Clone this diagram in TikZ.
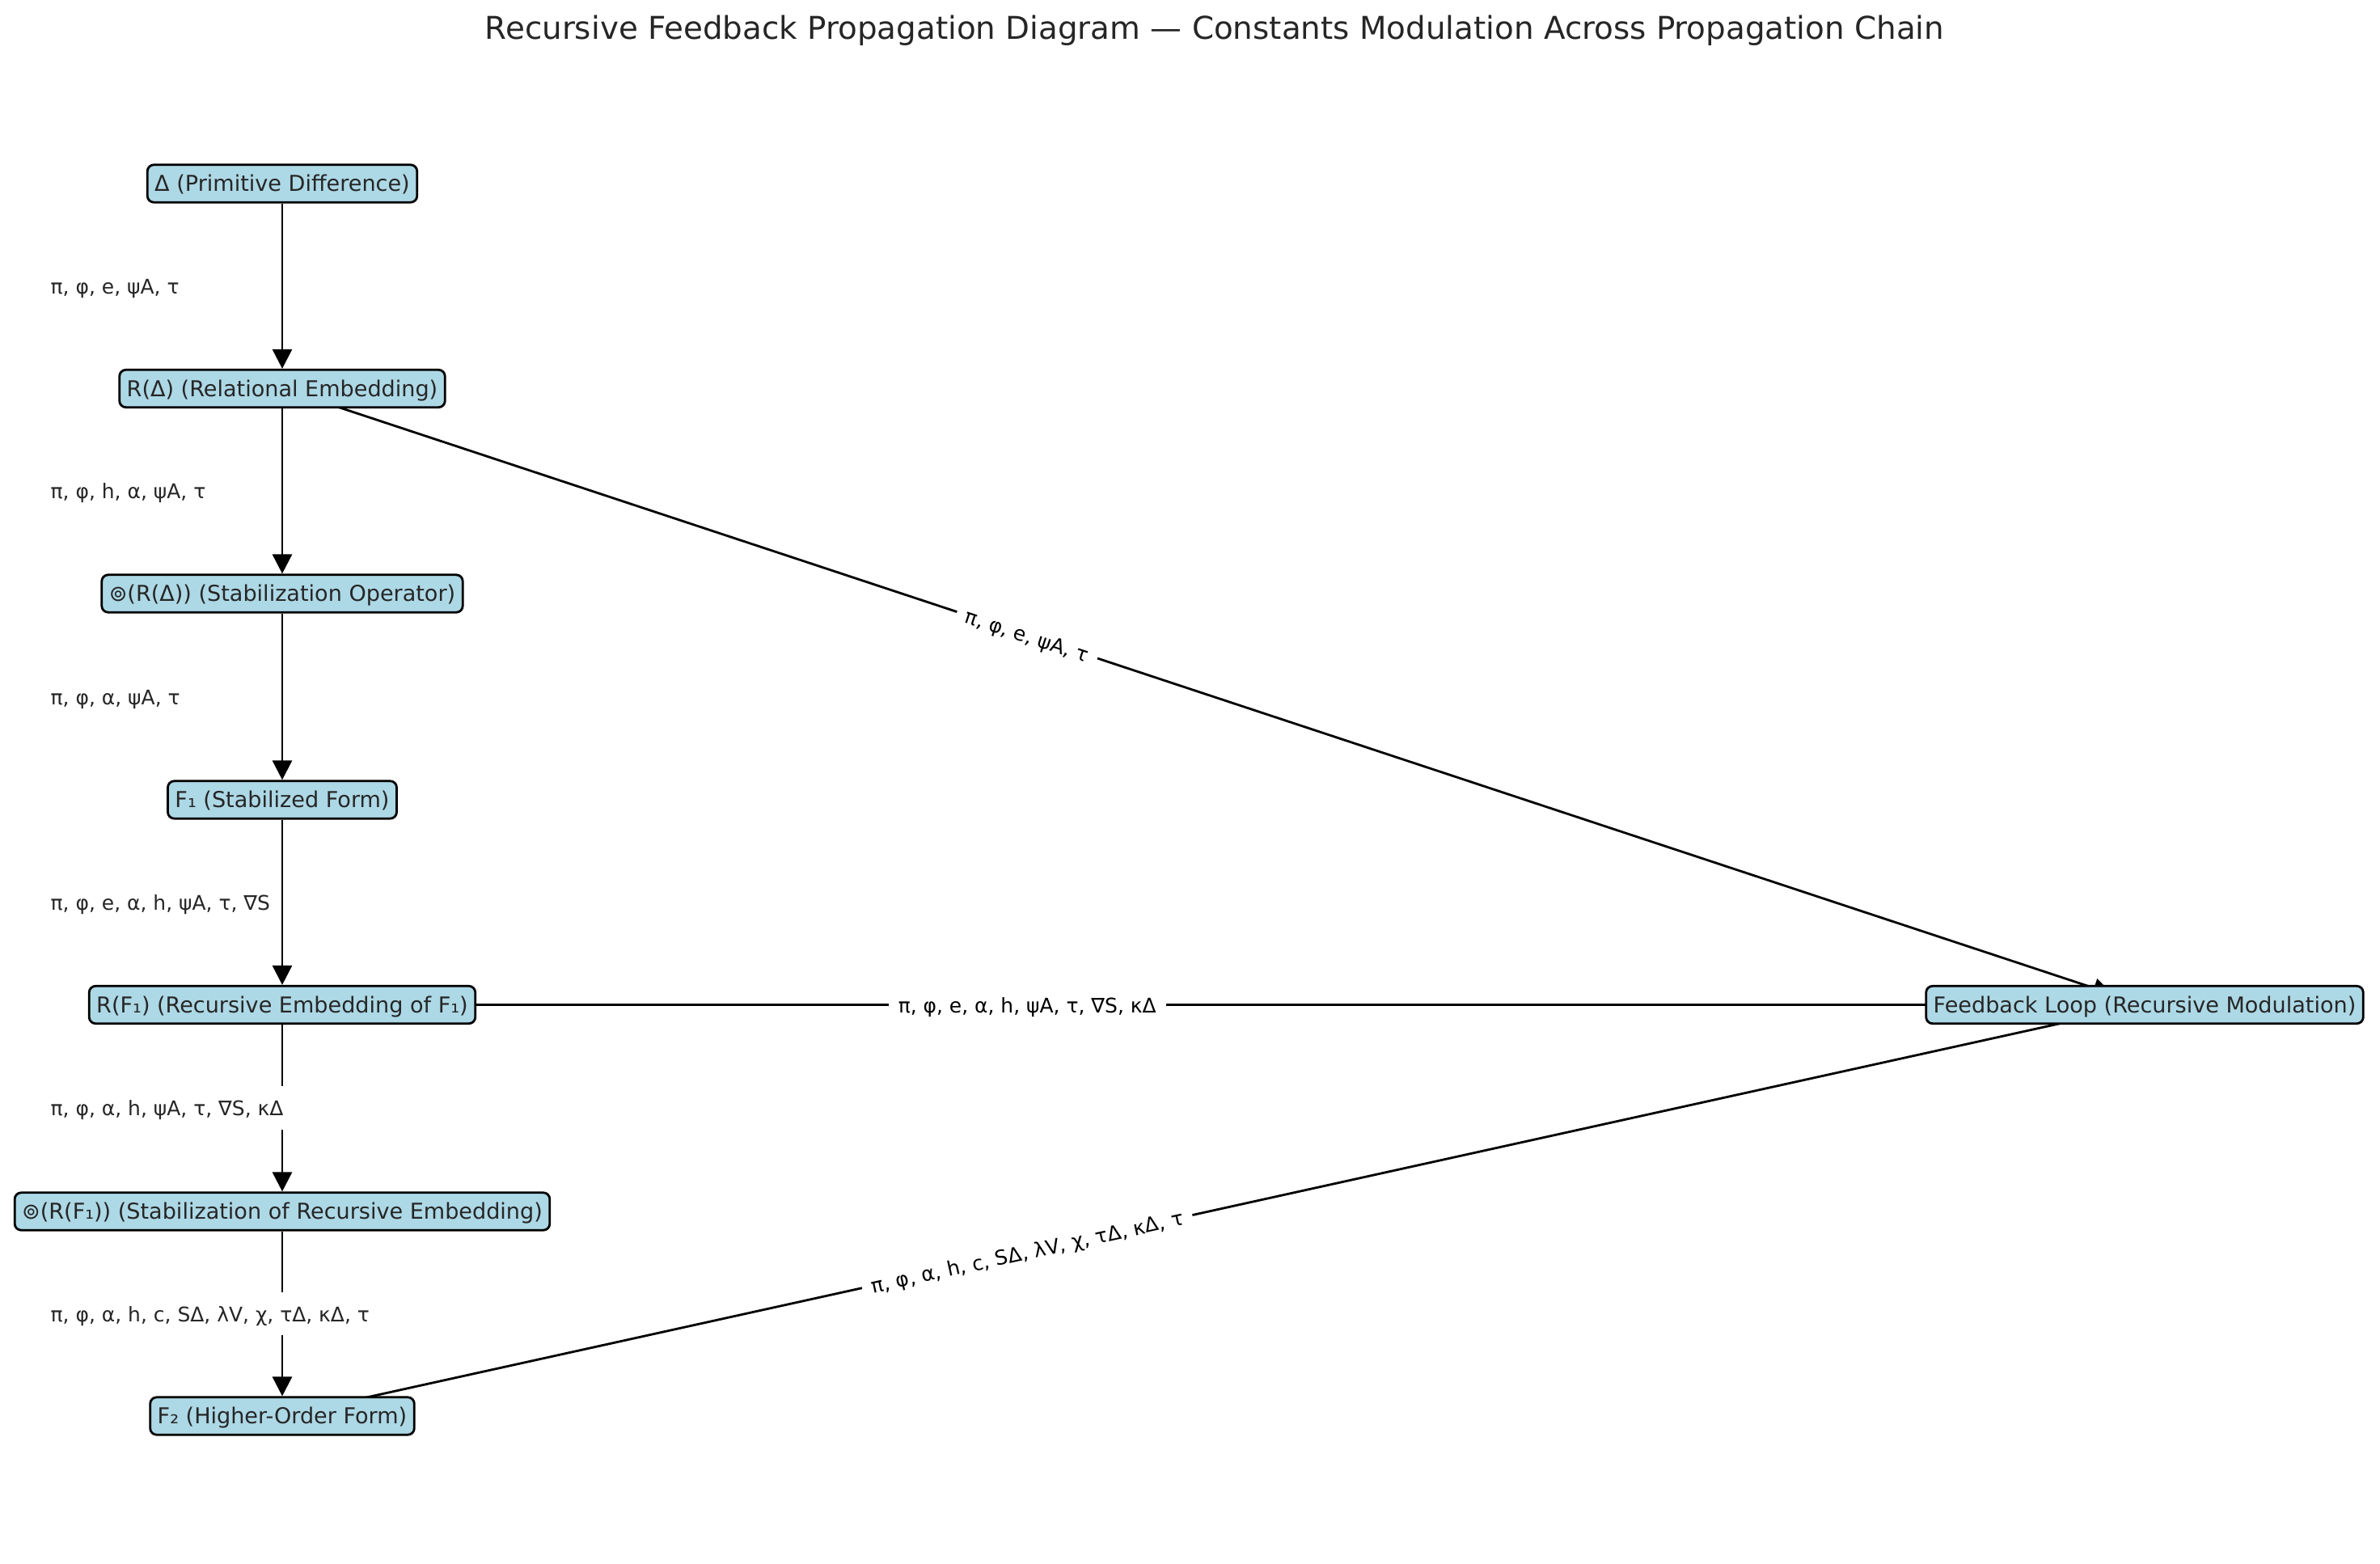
\documentclass[tikz,border=0pt]{standalone}
\usepackage{fontspec}
\setmainfont{DejaVu Sans}
\usetikzlibrary{arrows.meta,backgrounds}

\definecolor{stageblue}{HTML}{ADD8E6}
\definecolor{inkgray}{HTML}{262626}

\tikzset{
    stage/.style={draw=black, line width=0.8pt, fill=stageblue, rounded corners=0.08cm,
        text=inkgray, font=\fontsize{7.7}{9}\selectfont,
        inner xsep=0.09cm, inner ysep=0.065cm, text height=0.75em, text depth=0.2em},
    flow/.style={line width=0.8pt, -{Triangle[length=0.24cm,width=0.24cm]}},
    constlbl/.style={font=\fontsize{7.1}{8}\selectfont, text=inkgray, anchor=west, fill=white,
        inner xsep=0.12cm, inner ysep=0.1cm, text height=0.75em, text depth=0.2em},
    looplbl/.style={font=\fontsize{7.1}{8}\selectfont, text=black, fill=white, sloped,
        inner xsep=0.12cm, inner ysep=0.1cm, text height=0.75em, text depth=0.2em},
}

\begin{document}
\begin{tikzpicture}
    \useasboundingbox (0,0) rectangle (29.43,-19.34);

    \node [text=inkgray, font=\fontsize{11.05}{13}\selectfont] (title) at (15.02,-0.375)
        {Recursive Feedback Propagation Diagram — Constants Modulation Across Propagation Chain};

    % propagation chain
    \node [stage] (delta)  at (3.49,-2.27)  {Δ (Primitive Difference)};
    \node [stage] (rdelta) at (3.49,-4.805) {R(Δ) (Relational Embedding)};
    \node [stage] (stab)   at (3.49,-7.34)  {⊚(R(Δ)) (Stabilization Operator)};
    \node [stage] (fone)   at (3.49,-9.89)  {F₁ (Stabilized Form)};
    \node [stage] (rfone)  at (3.49,-12.425) {R(F₁) (Recursive Embedding of F₁)};
    \node [stage] (stabf)  at (3.49,-14.98) {⊚(R(F₁)) (Stabilization of Recursive Embedding)};
    \node [stage] (ftwo)   at (3.49,-17.51) {F₂ (Higher-Order Form)};
    \node [stage] (loop)   at (26.52,-12.425) {Feedback Loop (Recursive Modulation)};

    \draw [flow] (delta) -- (rdelta);
    \draw [flow] (rdelta) -- (stab);
    \draw [flow] (stab) -- (fone);
    \draw [flow] (fone) -- (rfone);
    \draw [flow] (rfone) -- (stabf);
    \draw [flow] (stabf) -- (ftwo);

    % feedback edges, under the boxes
    \begin{scope}[on background layer]
    \draw [flow, shorten >=0.42cm] (rdelta.center) -- (loop.center)
        node [looplbl, pos=0.4] (lblra) {π, φ, e, ψA, τ};
    \draw [flow, shorten >=0.3cm] (rfone.center) -- (loop.center)
        node [looplbl, pos=0.4] (lblrf) {π, φ, e, α, h, ψA, τ, ∇S, κΔ};
    \draw [flow, shorten >=0.3cm] (ftwo.center) -- (loop.center)
        node [looplbl, pos=0.4] (lblft) {π, φ, α, h, c, SΔ, λV, χ, τΔ, κΔ, τ};
    \end{scope}

    % constants on the chain
    \node [constlbl] (cone)   at (0.50,-3.54)  {π, φ, e, ψA, τ};
    \node [constlbl] (ctwo)   at (0.50,-6.07)  {π, φ, h, α, ψA, τ};
    \node [constlbl] (cthree) at (0.50,-8.615) {π, φ, α, ψA, τ};
    \node [constlbl] (cfour)  at (0.50,-11.16) {π, φ, e, α, h, ψA, τ, ∇S};
    \node [constlbl] (cfive)  at (0.50,-13.70) {π, φ, α, h, ψA, τ, ∇S, κΔ};
    \node [constlbl] (csix)   at (0.50,-16.245) {π, φ, α, h, c, SΔ, λV, χ, τΔ, κΔ, τ};

\end{tikzpicture}
\end{document}
